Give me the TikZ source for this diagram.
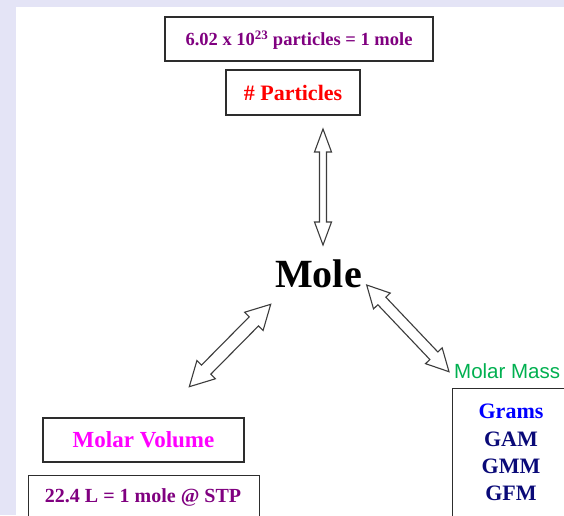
\documentclass[tikz,border=0pt]{standalone}
\usepackage{fontspec}
\setmainfont{Liberation Serif}
\newfontfamily\arialfont{Liberation Sans}
\usetikzlibrary{calc}
\definecolor{lav}{RGB}{228,228,246}
\definecolor{dpurple}{RGB}{128,0,128}
\definecolor{magentab}{RGB}{255,0,255}
\definecolor{mgreen}{RGB}{0,176,80}
\definecolor{navyb}{RGB}{10,10,120}
\definecolor{gblue}{RGB}{0,0,255}
\definecolor{bord}{RGB}{45,45,45}
\definecolor{arrowgray}{RGB}{60,60,60}
% #1,#2 tips; #3 shaft half width; #4 head half width; #5 head length
\newcommand{\dblarr}[5]{%
  \draw[arrowline] (#1)
    -- ($(#1)!#5!(#2)!#4!90:(#2)$)
    -- ($(#1)!#5!(#2)!#3!90:(#2)$)
    -- ($(#2)!#5!(#1)!#3!-90:(#1)$)
    -- ($(#2)!#5!(#1)!#4!-90:(#1)$)
    -- (#2)
    -- ($(#2)!#5!(#1)!#4!90:(#1)$)
    -- ($(#2)!#5!(#1)!#3!90:(#1)$)
    -- ($(#1)!#5!(#2)!#3!-90:(#2)$)
    -- ($(#1)!#5!(#2)!#4!-90:(#2)$)
    -- cycle;}
\begin{document}
\begin{tikzpicture}[x=1pt,y=-1pt,
  box/.style={draw=bord, line width=1.3pt, inner sep=0pt},
  lbl/.style={inner sep=0pt},
  arrowline/.style={draw=arrowgray, line width=1.1pt, fill=white, line join=miter}]
\useasboundingbox (0,0) rectangle (564,515);
\clip (0,0) rectangle (564,515);
\fill[lav] (0,0) rectangle (564,515);
\fill[white] (16,7) rectangle (564,515);

% top boxes
\node[box, minimum width=268pt, minimum height=44pt] (nbox) at (299,39) {};
\node[lbl, text=dpurple, font=\bfseries\fontsize{18.5}{20}\selectfont, anchor=base] (ntext) at (299,45.5) {6.02 x 10\textsuperscript{23} particles = 1 mole};
\node[box, minimum width=134pt, minimum height=45pt] (pbox) at (293,92.5) {};
\node[lbl, text=red, font=\bfseries\fontsize{22}{24}\selectfont, anchor=base] (ptext) at (293,100) {\# Particles};

% centre
\node[lbl, font=\bfseries\fontsize{40}{44}\selectfont, anchor=base] (mole) at (318.5,287) {Mole};

% arrows
\coordinate (vt) at (323,129);
\coordinate (vb) at (323,245);
\coordinate (lt) at (270.7,304.3);
\coordinate (lb) at (189.3,386.7);
\coordinate (rt) at (366.7,285);
\coordinate (rb) at (449,371.7);
\dblarr{vt}{vb}{3.5pt}{8.5pt}{23pt}
\dblarr{lt}{lb}{6.5pt}{13pt}{24pt}
\dblarr{rt}{rb}{5.5pt}{11.5pt}{22pt}

% molar volume
\node[box, minimum width=201pt, minimum height=44pt] (mvbox) at (143.5,440) {};
\node[lbl, text=magentab, font=\bfseries\fontsize{23}{26}\selectfont, anchor=base] (mvtext) at (143.5,447.5) {Molar Volume};
\node[box, anchor=north west, minimum width=231pt, minimum height=80pt] (sbox) at (28,475) {};
\node[lbl, text=dpurple, font=\bfseries\fontsize{20}{22}\selectfont, anchor=base] (stext) at (143,502) {22.4 L = 1 mole @ STP};

% molar mass
\node[lbl, anchor=base west, text=mgreen, font=\arialfont\fontsize{20.5}{22}\selectfont] (mm) at (454,378) {Molar Mass};
\node[box, anchor=north west, minimum width=200pt, minimum height=200pt] (gbox) at (452,388) {};
\node[lbl, anchor=base, text=gblue, font=\bfseries\fontsize{22}{24}\selectfont] (g1) at (511,418) {Grams};
\node[lbl, anchor=base, text=navyb, font=\bfseries\fontsize{22}{24}\selectfont] (g2) at (511,446) {GAM};
\node[lbl, anchor=base, text=navyb, font=\bfseries\fontsize{22}{24}\selectfont] (g3) at (511,473) {GMM};
\node[lbl, anchor=base, text=navyb, font=\bfseries\fontsize{22}{24}\selectfont] (g4) at (511,500) {GFM};
\end{tikzpicture}
\end{document}
